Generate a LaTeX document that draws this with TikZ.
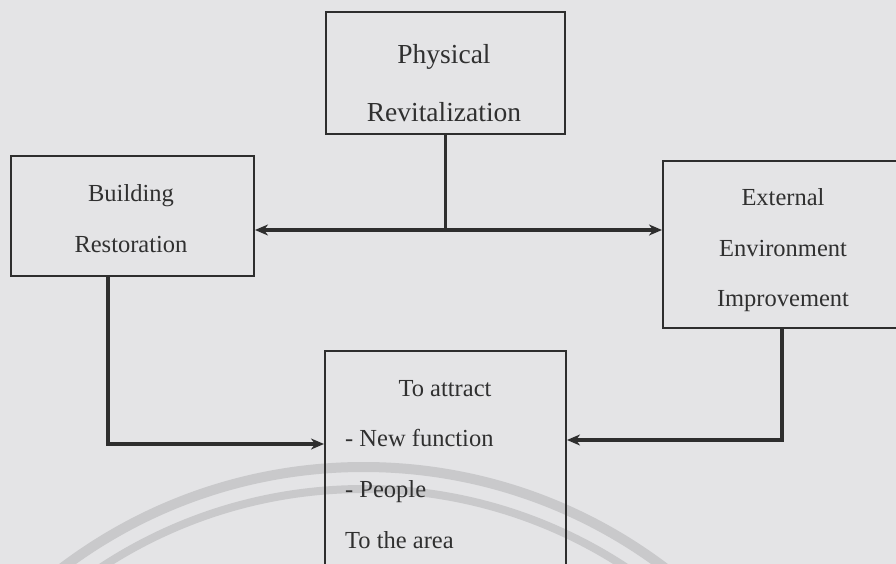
\documentclass[tikz,border=0pt]{standalone}
\usepackage{fontspec}
\setmainfont{Liberation Serif}
\usetikzlibrary{arrows.meta}
\definecolor{bg}{HTML}{E4E4E6}
\definecolor{ink}{HTML}{2E2E2E}
\definecolor{txt}{HTML}{303030}
\definecolor{wmc}{HTML}{C9C9CB}
\tikzset{
  box/.style={draw=ink, line width=2pt, inner sep=0pt, anchor=north west},
  lbl/.style={text=txt, font=\fontsize{24.5}{30}\selectfont, anchor=base, inner sep=0pt},
  lbll/.style={lbl, anchor=base west},
  big/.style={text=txt, font=\fontsize{27.5}{33}\selectfont, anchor=base, inner sep=0pt},
  conn/.style={draw=ink, line width=3.2pt},
  tip/.style={-{Stealth[length=13pt,width=11pt,inset=4pt]}},
  wm/.style={draw=wmc, line width=10pt}
}
\begin{document}
\begin{tikzpicture}[x=1pt,y=-1pt]
\useasboundingbox (0,0) rectangle (896,564);
\fill[bg] (0,0) rectangle (896,564);
\begin{scope}
\clip (0,0) rectangle (896,564);
% faint watermark arcs
\draw[wm] (363.5,967) circle (500);
\draw[wm, line width=8pt] (363.5,967) circle (478);
% boxes
\node[box, minimum width=239pt, minimum height=122pt] (phys) at (325,11) {};
\node[box, minimum width=243pt, minimum height=120pt] (build) at (10,155) {};
\node[box, minimum width=240pt, minimum height=167pt] (ext) at (662,160) {};
\node[box, minimum width=241pt, minimum height=260pt] (goal) at (324,350) {};
\end{scope}
% texts
\node[big] (t1) at (444,64) {Physical};
\node[big] (t2) at (444,122) {Revitalization};
\node[lbl] (t3) at (131,201) {Building};
\node[lbl] (t4) at (131,252) {Restoration};
\node[lbl] (t5) at (783,205) {External};
\node[lbl] (t6) at (783,256) {Environment};
\node[lbl] (t7) at (783,306) {Improvement};
\node[lbl] (t8) at (445,396) {To attract};
\node[lbll] (t9) at (345,446) {- New function};
\node[lbll] (t10) at (345,497) {- People};
\node[lbll] (t11) at (345,548) {To the area};
% connectors
\coordinate (hub) at (phys.south |- 0,230);
\draw[conn] (phys.south) -- (hub);
\draw[conn, {Stealth[length=13pt,width=11pt,inset=4pt]}-{Stealth[length=13pt,width=11pt,inset=4pt]}] (build.east |- hub) -- (ext.west |- hub);
\draw[conn, tip] (build.south -| 108,0) |- (goal.west |- 0,444);
\draw[conn, tip] (ext.south -| 782,0) |- (goal.east |- 0,440);
\end{tikzpicture}
\end{document}
